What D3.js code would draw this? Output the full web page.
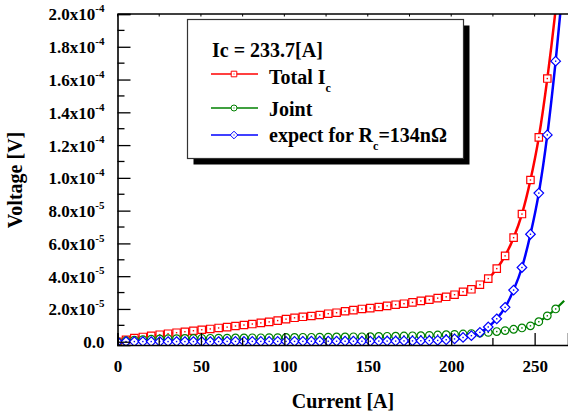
<!DOCTYPE html>
<html>
<head>
<meta charset="utf-8">
<title>Voltage vs Current</title>
<style>
  body { margin: 0; background: #fff; }
  text { font-family: "Liberation Serif", "Times New Roman", serif; font-weight: bold; fill: #000; }
</style>
</head>
<body>
<svg width="568" height="412"></svg>
<script src="https://d3js.org/d3.v7.min.js"></script>
<script>

// current [A]
var currents = [0, 5.1, 10.1, 15.2, 20.2, 25.3, 30.3, 35.4, 40.4, 45.5,
  50.5, 55.6, 60.6, 65.7, 70.7, 75.8, 80.8, 85.9, 90.9, 96,
  101, 106.1, 111.1, 116.2, 121.2, 126.3, 131.3, 136.4, 141.4, 146.5,
  151.5, 156.6, 161.6, 166.7, 171.7, 176.8, 181.8, 186.9, 191.9, 197,
  202, 207.1, 212.1, 217.2, 222.2, 227.3, 232.3, 237.4, 242.4, 247.5,
  252.5, 257.6, 262.6, 267.7];

// voltages in units of 1e-5 V
var totalV = [0.00, 0.12, 0.22, 0.29, 0.36, 0.43, 0.49, 0.55, 0.61, 0.67,
  0.73, 0.78, 0.84, 0.89, 0.96, 1.02, 1.08, 1.15, 1.21, 1.29,
  1.38, 1.46, 1.52, 1.57, 1.63, 1.71, 1.77, 1.86, 1.93, 2.00,
  2.05, 2.12, 2.19, 2.26, 2.32, 2.40, 2.49, 2.56, 2.66, 2.74,
  2.87, 3.05, 3.20, 3.48, 3.85, 4.46, 5.24, 6.35, 7.79, 9.87,
  12.47, 16.06, 20.3, 25.5];

var jointV = [0.00, 0.06, 0.10, 0.13, 0.15, 0.17, 0.18, 0.19, 0.20, 0.20,
  0.21, 0.21, 0.22, 0.22, 0.23, 0.23, 0.24, 0.24, 0.25, 0.25,
  0.26, 0.26, 0.27, 0.27, 0.28, 0.28, 0.29, 0.29, 0.30, 0.30,
  0.31, 0.32, 0.33, 0.34, 0.35, 0.36, 0.37, 0.39, 0.41, 0.43,
  0.45, 0.47, 0.50, 0.53, 0.57, 0.62, 0.68, 0.76, 0.84, 0.97,
  1.22, 1.58, 2.00, 2.50];

var expectV = [0.00, 0.01, 0.01, 0.01, 0.01, 0.01, 0.01, 0.01, 0.01, 0.01,
  0.01, 0.01, 0.01, 0.02, 0.02, 0.02, 0.02, 0.02, 0.02, 0.02,
  0.02, 0.02, 0.02, 0.03, 0.03, 0.03, 0.03, 0.03, 0.03, 0.03,
  0.03, 0.04, 0.04, 0.04, 0.05, 0.05, 0.06, 0.07, 0.08, 0.12,
  0.17, 0.26, 0.37, 0.57, 0.90, 1.40, 2.10, 3.15, 4.53, 6.56,
  9.07, 12.62, 17.12, 22.5];

var xTicks = [0, 50, 100, 150, 200, 250];
var xMinor = [25, 75, 125, 175, 225];
var yTicks = [0, 2e-5, 4e-5, 6e-5, 8e-5, 1e-4, 1.2e-4, 1.4e-4, 1.6e-4, 1.8e-4, 2e-4];
var yMinor = [1e-5, 3e-5, 5e-5, 7e-5, 9e-5, 1.1e-4, 1.3e-4, 1.5e-4, 1.7e-4, 1.9e-4];

var svg = d3.select("svg");

var pLeft = 117.5, pRight = 568, pTop = 14, pBottom = 345;

var x = d3.scaleLinear().domain([0, 270]).range([pLeft, pRight]);
var y = d3.scaleLinear().domain([-2e-6, 2e-4]).range([pBottom, pTop]);

var series = [
  { name: "total", color: "#ff0000", width: 2.5, shape: "square", values: totalV },
  { name: "joint", color: "#008000", width: 2.2, shape: "circle", values: jointV },
  { name: "expect", color: "#0000ff", width: 2.5, shape: "diamond", values: expectV }
];

svg.append("clipPath").attr("id", "plot")
  .append("rect")
    .attr("x", pLeft).attr("y", pTop)
    .attr("width", pRight - pLeft).attr("height", pBottom - pTop);

function markerPath(shape, s) {
  if (shape == "square") return "M" + (-s) + "," + (-s) + "h" + (2 * s) + "v" + (2 * s) + "h" + (-2 * s) + "Z";
  if (shape == "diamond") return "M0," + (-s) + "L" + s + ",0L0," + s + "L" + (-s) + ",0Z";
  return "M" + (-s) + ",0A" + s + "," + s + " 0 1,0 " + s + ",0A" + s + "," + s + " 0 1,0 " + (-s) + ",0Z";
}
var markerSize = { square: 3.7, circle: 3.8, diamond: 4.8 };

var line = d3.line()
  .x(function(d) { return x(d.i); })
  .y(function(d) { return y(d.v); })
  .curve(d3.curveMonotoneX);

var plot = svg.append("g").attr("clip-path", "url(#plot)");

series.forEach(function(s) {
  var pts = currents.map(function(c, k) { return { i: c, v: s.values[k] * 1e-5, k: k }; });
  var g = plot.append("g");
  g.append("path")
    .datum(pts)
    .attr("fill", "none")
    .attr("stroke", s.color)
    .attr("stroke-width", s.width)
    .attr("d", line);
  var m = g.selectAll(".mk")
    .data(pts.filter(function(d) { return d.k < currents.length - 1 && d.v <= 2e-4; }))
    .enter().append("g")
      .attr("transform", function(d) { return "translate(" + x(d.i) + "," + y(d.v) + ")"; });
  m.append("path")
    .attr("d", markerPath(s.shape, markerSize[s.shape]))
    .attr("fill", "#fff")
    .attr("stroke", s.color)
    .attr("stroke-width", 1.2);
  m.append("rect")
    .attr("x", -0.7).attr("y", -0.7).attr("width", 1.4).attr("height", 1.4)
    .attr("fill", s.color);
});

// axes
var ax = svg.append("g");

ax.append("g")
    .attr("transform", "translate(0," + pBottom + ")")
    .call(d3.axisBottom(x).tickValues(xTicks).tickSize(-12).tickPadding(15).tickFormat(d3.format("d")))
    .call(function(g) {
      g.attr("font-size", 17);
      g.select(".domain").attr("stroke-width", 1.6);
      g.selectAll(".tick line").attr("stroke-width", 1.3);
      g.selectAll(".tick text").attr("font-size", 17).attr("dy", "0.71em");
    });

ax.selectAll(".xminor")
  .data(xMinor)
  .enter().append("line")
    .attr("x1", function(d) { return x(d); }).attr("x2", function(d) { return x(d); })
    .attr("y1", pBottom).attr("y2", pBottom - 7)
    .attr("stroke", "#000").attr("stroke-width", 1.3);

// top axis
ax.append("line")
    .attr("x1", pLeft).attr("x2", pRight).attr("y1", pTop).attr("y2", pTop)
    .attr("stroke", "#000").attr("stroke-width", 1.6);
ax.selectAll(".xtop")
  .data(xTicks.concat(xMinor))
  .enter().append("line")
    .attr("x1", function(d) { return x(d); }).attr("x2", function(d) { return x(d); })
    .attr("y1", pTop).attr("y2", pTop + 2.5)
    .attr("stroke", "#000").attr("stroke-width", 1);

function yLabel(d) {
  if (d == 0) return { m: "0.0", e: "" };
  var e = Math.floor(Math.log10(d) + 1e-9);
  var m = d / Math.pow(10, e);
  return { m: m.toFixed(1) + "x10", e: String(e) };
}

ax.append("g")
    .attr("transform", "translate(" + pLeft + ",0)")
    .call(d3.axisLeft(y).tickValues(yTicks).tickSize(-13).tickPadding(13).tickFormat(""))
    .call(function(g) {
      g.attr("font-size", 17);
      g.select(".domain").attr("stroke-width", 1.6);
      g.selectAll(".tick line").attr("stroke-width", 1.3);
      g.selectAll(".tick text").each(function(d) {
        var t = d3.select(this).attr("font-size", 17).attr("dy", "0.35em");
        var lb = yLabel(d);
        t.append("tspan").text(lb.m);
        if (lb.e) t.append("tspan").attr("font-size", 11).attr("dy", "-0.75em").text(lb.e);
      });
    });

ax.selectAll(".yminor")
  .data(yMinor)
  .enter().append("line")
    .attr("x1", pLeft).attr("x2", pLeft + 7)
    .attr("y1", function(d) { return y(d); }).attr("y2", function(d) { return y(d); })
    .attr("stroke", "#000").attr("stroke-width", 1.3);

svg.append("text")
    .attr("x", 343).attr("y", 408)
    .attr("text-anchor", "middle")
    .attr("font-size", 20)
    .text("Current [A]");

svg.append("text")
    .attr("transform", "translate(22,180) rotate(-90)")
    .attr("text-anchor", "middle")
    .attr("font-size", 20)
    .text("Voltage [V]");

// legend
var lg = svg.append("g");
lg.append("rect")
    .attr("x", 193.5).attr("y", 25.5).attr("width", 276).attr("height", 139)
    .attr("fill", "#000");
lg.append("rect")
    .attr("x", 187.5).attr("y", 19.5).attr("width", 276).attr("height", 139)
    .attr("fill", "#fff").attr("stroke", "#333").attr("stroke-width", 1.2);

lg.append("text")
    .attr("x", 212).attr("y", 57)
    .attr("font-size", 20)
    .text("Ic = 233.7[A]");

var legendRows = [
  { s: series[0], ly: 74 },
  { s: series[1], ly: 108 },
  { s: series[2], ly: 135 }
];
var legendSmall = { square: 2.8, circle: 3, diamond: 3.8 };

legendRows.forEach(function(r) {
  lg.append("line")
    .attr("x1", 211).attr("x2", 258).attr("y1", r.ly).attr("y2", r.ly)
    .attr("stroke", r.s.color).attr("stroke-width", 1.5);
  lg.append("path")
    .attr("transform", "translate(234," + r.ly + ")")
    .attr("d", markerPath(r.s.shape, legendSmall[r.s.shape]))
    .attr("fill", "#fff").attr("stroke", r.s.color).attr("stroke-width", 1);
  lg.append("rect")
    .attr("x", 233.5).attr("y", r.ly - 0.5).attr("width", 1).attr("height", 1)
    .attr("fill", r.s.color);
});

var t1 = lg.append("text").attr("x", 269).attr("y", 84).attr("font-size", 20);
t1.append("tspan").text("Total I");
t1.append("tspan").attr("font-size", 12).attr("dy", 8).text("c");

lg.append("text").attr("x", 269).attr("y", 116).attr("font-size", 20).text("Joint");

var t3 = lg.append("text").attr("x", 269).attr("y", 142).attr("font-size", 20);
t3.append("tspan").text("expect for R");
t3.append("tspan").attr("font-size", 12).attr("dy", 8).text("c");
t3.append("tspan").attr("dy", -8).text("=134n\u03A9");

</script>
</body>
</html>
